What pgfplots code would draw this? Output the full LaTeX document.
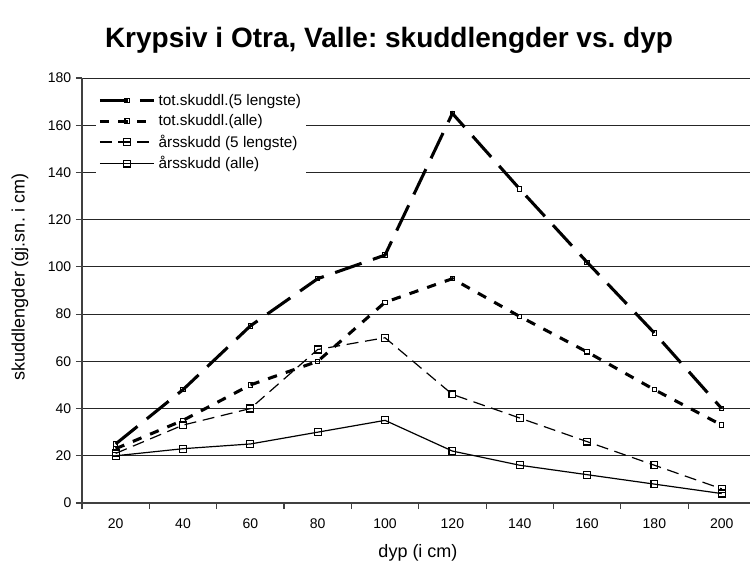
\documentclass[border=0pt]{standalone}
\usepackage{fontspec}
\setmainfont{Liberation Sans}
\usepackage{pgfplots}
\pgfplotsset{compat=1.18}
\frenchspacing
\begin{document}
\begin{tikzpicture}[x=0.75pt,y=0.75pt]
\begin{axis}[
  at={(0,0)}, anchor=south west,
  scale only axis, width=501pt, height=318.75pt,
  xmin=10, xmax=208.4, ymin=0, ymax=180,
  axis x line*=bottom, axis y line*=left,
  axis line style={-, draw=black!75, line width=1pt},
  xtick={20,40,...,200},
  minor xtick={10,30,...,190},
  major x tick style={draw=none},
  minor x tick style={draw=black!75, line width=0.8pt},
  minor tick length=4.5pt,
  ytick={0,20,...,180},
  y tick style={draw=black!75, line width=0.8pt},
  major tick length=4.5pt,
  tick align=outside,
  ymajorgrids, grid style={black!85, line width=0.7pt},
  /pgf/number format/assume math mode=true,
  ticklabel style={font=\fontsize{10.5}{12}\selectfont},
  xticklabel style={yshift=-4pt},
  legend style={at={(axis description cs:0.02,0.975)}, anchor=north west, draw=none, fill=white,
    font=\fontsize{11.5}{14}\selectfont, row sep=1.4pt, inner sep=2pt},
  legend cell align=left,
  legend image code/.code={\draw[mark repeat=2,mark phase=2] plot coordinates {(0cm,0cm) (0.72cm,0cm) (1.44cm,0cm)};},
]
\addplot[black, line width=2.3pt, dash pattern=on 21pt off 9pt, mark=square, mark size=1.6pt, mark options={solid, line width=0.8pt, fill=white}]
  coordinates {(20,25) (40,48) (60,75) (80,95) (100,105) (120,165) (140,133) (160,102) (180,72) (200,40)};
\addlegendentry{tot.skuddl.(5 lengste)}
\addplot[black, line width=2.3pt, dash pattern=on 7pt off 7pt, mark=square, mark size=1.6pt, mark options={solid, line width=0.8pt, fill=white}]
  coordinates {(20,23) (40,35) (60,50) (80,60) (100,85) (120,95) (140,79) (160,64) (180,48) (200,33)};
\addlegendentry{tot.skuddl.(alle)}
\addplot[black, line width=0.9pt, dash pattern=on 9pt off 5pt, mark=square, mark size=2.6pt, mark options={solid, line width=0.9pt, fill=white}]
  coordinates {(20,21) (40,33) (60,40) (80,65) (100,70) (120,46) (140,36) (160,26) (180,16) (200,6)};
\addlegendentry{årsskudd (5 lengste)}
\addplot[black, line width=0.9pt, mark=square, mark size=2.6pt, mark options={solid, line width=0.9pt, fill=white}]
  coordinates {(20,20) (40,23) (60,25) (80,30) (100,35) (120,22) (140,16) (160,12) (180,8) (200,4)};
\addlegendentry{årsskudd (alle)}
\end{axis}
\node[font=\bfseries\fontsize{21}{25}\selectfont] at (307,463) {Krypsiv i Otra, Valle: skuddlengder vs. dyp};
\node[font=\fontsize{13.5}{16}\selectfont] at (336,-50) {dyp (i cm)};
\node[font=\fontsize{13.5}{16}\selectfont, rotate=90] at (-62,226) {skuddlengder (gj.sn. i cm)};
\pgfresetboundingbox
\path[use as bounding box] (-82,-62) rectangle (668,503);
\end{tikzpicture}
\end{document}
